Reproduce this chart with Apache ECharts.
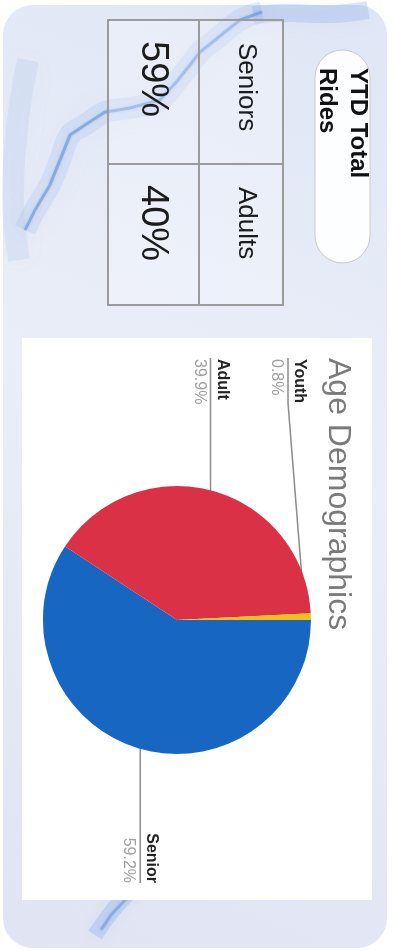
<!DOCTYPE html>
<html>
<head>
<meta charset="utf-8">
<script src="https://cdn.jsdelivr.net/npm/echarts@6/dist/echarts.min.js"></script>
<style>
html,body{margin:0;padding:0;width:393px;height:951px;overflow:hidden;background:#ffffff;}
#chart{position:absolute;left:0;top:0;width:951px;height:393px;transform-origin:0 0;transform:translate(393px,0) rotate(90deg);}
</style>
</head>
<body>
<div id="chart"></div>
<script>
// ---- data ----
const sliceNames = ['Senior', 'Adult', 'Youth'];
const sliceValues = [59.2, 39.9, 0.8];
const sliceColors = ['#1766c2', '#db3146', '#f3bf16'];
const tableHeaders = ['Seniors', 'Adults'];
const tableValues = ['59%', '40%'];
const titleText = 'Age Demographics';
const pillText = 'YTD Total\nRides';

// ---- layout / style constants ----
const FONT = '"Liberation Sans", Arial, Helvetica, sans-serif';
const CX = 620, CY = 216, R = 134;
const LEFT_LABEL_X = 358, RIGHT_LABEL_X = 883, MIN_LABEL_Y = 105;

const chart = echarts.init(document.getElementById('chart'), null, {renderer: 'canvas'});

const total = sliceValues.reduce((a, b) => a + b, 0);

function midAngle(i) {
  let before = 0;
  for (let k = 0; k < i; k++) before += sliceValues[k];
  return (before + sliceValues[i] / 2) / total * Math.PI * 2;
}

// background card + marble texture
const graphics = [];
graphics.push({
  type: 'rect', shape: {x: 5, y: 6, width: 943, height: 384, r: 30},
  style: {fill: new echarts.graphic.LinearGradient(0, 0, 1, 1, [
    {offset: 0, color: '#dfe6f5'}, {offset: 0.45, color: '#eaeef8'}, {offset: 1, color: '#e0e4f3'}
  ])}
});
const vein = [[12, 131], [20, 153], [40, 178], [52, 193], [65, 203], [80, 215], [100, 233], [108, 263],
  [112, 288], [125, 308], [135, 323], [160, 333], [185, 343], [210, 358], [230, 368]];
const soft = [
  {pts: vein, w: 22, c: 'rgba(150,180,232,0.22)', b: 24},
  {pts: [[10, 25], [14, 60], [13, 110], [15, 140]], w: 18, c: 'rgba(120,160,228,0.25)', b: 22},
  {pts: [[60, 365], [120, 375], [200, 380], [260, 374]], w: 22, c: 'rgba(165,188,232,0.20)', b: 26},
  {pts: [[868, 245], [890, 262], [910, 280], [935, 298]], w: 16, c: 'rgba(120,160,225,0.28)', b: 16}
];
soft.forEach(s => graphics.push({
  type: 'polyline', shape: {points: s.pts, smooth: 0.4},
  style: {stroke: s.c, lineWidth: s.w, fill: null, shadowBlur: s.b, shadowColor: s.c}
}));
graphics.push({type: 'polyline', shape: {points: vein},
  style: {stroke: 'rgba(85,135,210,0.5)', lineWidth: 3, fill: null, shadowBlur: 3, shadowColor: 'rgba(85,135,210,0.5)'}});
graphics.push({type: 'polyline', shape: {points: [[880, 250], [898, 266], [915, 282], [930, 292]]},
  style: {stroke: 'rgba(95,140,215,0.45)', lineWidth: 3, fill: null, shadowBlur: 3, shadowColor: 'rgba(95,140,215,0.5)'}});

// white chart panel
graphics.push({type: 'rect', shape: {x: 338, y: 21, width: 562, height: 350}, style: {fill: '#ffffff'}});

// title
graphics.push({
  type: 'text', x: 358, y: 55,
  style: {text: titleText, fontSize: 32, fontFamily: FONT, fill: '#7a7a7a',
    align: 'left', textAlign: 'left', verticalAlign: 'middle', textVerticalAlign: 'middle'}
});

// pill
graphics.push({type: 'rect', shape: {x: 50, y: 23, width: 213, height: 55, r: 27.5},
  style: {fill: 'rgba(255,255,255,0.92)', stroke: '#c9c9c9', lineWidth: 1}});
graphics.push({
  type: 'text', x: 68, y: 51,
  style: {text: pillText, fontSize: 24, fontWeight: 'bold', fontFamily: FONT, fill: '#111111', lineHeight: 31,
    align: 'left', textAlign: 'left', verticalAlign: 'middle', textVerticalAlign: 'middle'}
});

// table
const T_X = 20, T_Y = 110, T_W = 285, T_H = 175, T_COL = 144, T_ROW = 84;
graphics.push({type: 'rect', shape: {x: T_X, y: T_Y, width: T_W, height: T_H},
  style: {fill: 'rgba(255,255,255,0.25)', stroke: '#9b9b9b', lineWidth: 2}});
graphics.push({type: 'line', shape: {x1: T_X + T_COL, y1: T_Y, x2: T_X + T_COL, y2: T_Y + T_H},
  style: {stroke: '#9b9b9b', lineWidth: 2}});
graphics.push({type: 'line', shape: {x1: T_X, y1: T_Y + T_ROW, x2: T_X + T_W, y2: T_Y + T_ROW},
  style: {stroke: '#9b9b9b', lineWidth: 2}});
tableHeaders.forEach((h, i) => {
  graphics.push({type: 'text', x: T_X + i * T_COL + 23, y: T_Y + 37,
    style: {text: h, fontSize: 26, fontFamily: FONT, fill: '#1c1c1c',
      align: 'left', textAlign: 'left', verticalAlign: 'middle', textVerticalAlign: 'middle'}});
});
tableValues.forEach((v, i) => {
  graphics.push({type: 'text', x: T_X + i * T_COL + 21, y: T_Y + 131,
    style: {text: v, fontSize: 38, fontFamily: FONT, fill: '#1c1c1c',
      align: 'left', textAlign: 'left', verticalAlign: 'middle', textVerticalAlign: 'middle'}});
});

const option = {
  animation: false,
  graphic: {elements: graphics},
  series: [{
    type: 'pie',
    center: [CX, CY],
    radius: R,
    startAngle: 90,
    clockwise: true,
    avoidLabelOverlap: false,
    itemStyle: {borderWidth: 0},
    emphasis: {disabled: true},
    label: {
      show: true,
      position: 'outside',
      formatter: p => '{n|' + p.name + '}\n{v|' + p.value.toFixed(1) + '%}',
      rich: {
        n: {fontSize: 16, fontWeight: 'bold', color: '#222222', lineHeight: 23, fontFamily: FONT},
        v: {fontSize: 16, color: '#a0a0a0', lineHeight: 23, fontFamily: FONT}
      }
    },
    labelLine: {show: true, length: 10, length2: 10, lineStyle: {color: '#8c8c8c', width: 1.5}},
    labelLayout: function (p) {
      const i = p.dataIndex;
      const a = midAngle(i);
      const ax = CX + Math.sin(a) * R * 0.955;
      const ay = CY - Math.cos(a) * R * 0.955;
      const ly = Math.max(ay, MIN_LABEL_Y);
      const w = p.labelRect.width;
      if (Math.sin(a) > 0) {
        return {x: RIGHT_LABEL_X, y: ly, align: 'right', verticalAlign: 'middle',
          labelLinePoints: [[ax, ay], [RIGHT_LABEL_X - w, ly], [RIGHT_LABEL_X, ly]]};
      }
      return {x: LEFT_LABEL_X + 1, y: ly, align: 'left', verticalAlign: 'middle',
        labelLinePoints: [[ax, ay], [LEFT_LABEL_X + w + 1, ly], [LEFT_LABEL_X, ly]]};
    },
    data: sliceNames.map((n, i) => ({name: n, value: sliceValues[i], itemStyle: {color: sliceColors[i]}}))
  }]
};
chart.setOption(option);
</script>
</body>
</html>
